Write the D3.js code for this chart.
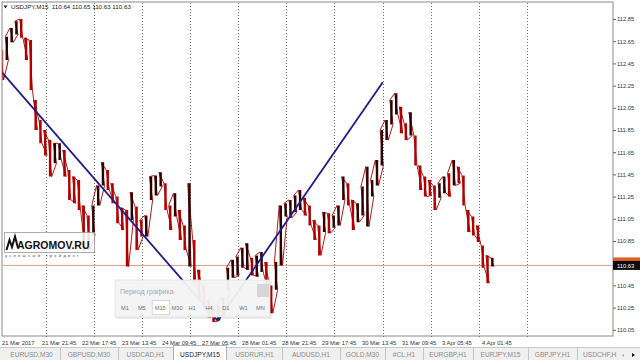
<!DOCTYPE html>
<html>
<head>
<meta charset="utf-8">
<script src="https://cdn.jsdelivr.net/npm/d3@7"></script>
<style>
html, body { margin: 0; padding: 0; background: #fff; }
svg { display: block; font-family: "Liberation Sans", Arial, sans-serif; }
</style>
</head>
<body>
<svg id="chart" width="640" height="360"></svg>
<script>
/*
USDJPY M15 chart, terminal style.
Each entry of highs/lows is one 2-hour block.
*/
var symbolTitle = "USDJPY,M15";
var ohlcText = "110.64 110.65 110.63 110.63";

var highs = [112.57,112.69,112.77,112.83,112.85,112.68,112.66,112.12,111.94,111.85,
	111.76,111.73,111.73,111.67,111.49,111.43,111.40,111.17,111.08,111.17,
	111.35,111.56,111.49,111.37,111.25,111.15,111.13,111.29,111.16,111.04,
	111.08,111.43,111.44,111.47,111.37,111.17,111.28,111.13,110.99,111.37,
	110.86,110.59,110.45,110.32,110.25,110.27,110.34,110.61,110.68,110.71,
	110.79,110.83,110.70,110.72,110.75,110.66,110.45,110.66,111.17,111.19,
	111.22,111.26,111.31,111.24,111.17,111.04,110.99,111.11,111.10,111.08,
	111.17,111.43,111.37,111.22,111.19,111.34,111.52,111.40,111.58,111.85,
	111.94,112.12,112.18,112.06,111.91,112.01,111.80,111.53,111.43,111.40,
	111.35,111.37,111.43,111.46,111.58,111.52,111.44,111.13,111.07,110.99,
	110.81,110.72,110.70];

var lows = [112.30,112.48,112.64,112.71,112.68,112.48,112.21,111.85,111.73,111.62,
	111.43,111.55,111.58,111.43,111.22,111.19,111.13,110.77,110.77,110.90,
	111.17,111.35,111.31,111.19,111.01,110.95,110.62,111.04,110.77,110.89,
	110.89,111.22,111.26,111.34,111.13,110.95,111.07,110.86,110.77,110.62,
	110.47,110.32,110.23,110.16,110.12,110.14,110.18,110.41,110.52,110.54,
	110.61,110.59,110.54,110.53,110.57,110.41,110.20,110.41,110.63,111.07,
	111.06,111.11,111.13,111.08,110.99,110.86,110.72,110.93,110.92,110.97,
	110.99,111.22,111.17,110.95,111.02,111.08,110.98,111.25,111.35,111.53,
	111.76,111.90,111.99,111.82,111.76,111.80,111.53,111.31,111.25,111.26,
	111.13,111.24,111.28,111.25,111.35,111.37,111.17,110.93,110.90,110.84,
	110.61,110.47,110.62];

//two trend lines drawn by hand on the chart (block index, price)
var trendDown = [{t: 0, p: 112.37}, {t: 44.9, p: 110.13}];
var trendUp = [{t: 44.9, p: 110.13}, {t: 79.2, p: 112.28}];

var bidPrice = 110.63;

var priceTicks = [110.05,110.25,110.45,110.65,110.85,111.05,111.25,111.45,
	111.65,111.85,112.05,112.25,112.45,112.65,112.85];

var timeLabels = ["21 Mar 2017","21 Mar 21:45","22 Mar 17:45","23 Mar 13:45",
	"24 Mar 09:45","27 Mar 05:45","28 Mar 01:45","28 Mar 21:45","29 Mar 17:45",
	"30 Mar 13:45","31 Mar 09:45","3 Apr 05:45","4 Apr 01:45"];

//vertical grid every 20 hours = 10 blocks
var gridBlocks = [9.15,19.15,29.15,39.15,49.15,59.15,69.15,79.15,89.15,99.15,109.15];

var tabNames = ["EURUSD,M30","GBPUSD,M30","USDCAD,H1","USDJPY,M15","USDRUR,H1",
	"AUDUSD,H1","GOLD,M30","#CL,H1","EURGBP,H1","EURJPY,M15","GBPJPY,H1","USDCHF,H1"];
var activeTab = "USDJPY,M15";

var periods = ["M1","M5","M15","M30","H1","H4","D1","W1","MN"];
var currentPeriod = "M15";

var svg = d3.select("#chart");

var x = d3.scaleLinear().domain([0, 127.3]).range([2, 614]);
var y = d3.scaleLinear().domain([110.0, 112.85]).range([335.35, 19]);

//chart frame
svg.append("rect")
.attr("x", 2).attr("y", 2)
.attr("width", 611).attr("height", 334)
.attr("fill", "#fff")
.attr("stroke", "#8a8a8a")
.attr("stroke-width", 1);

svg.append("clipPath").attr("id", "plotclip")
.append("rect").attr("x", 2.5).attr("y", 2.5).attr("width", 610).attr("height", 333);

//dotted grid
svg.append("g")
.selectAll("line")
.data(gridBlocks)
.join("line")
.attr("x1", function(d){return Math.round(x(d)) + 0.5;})
.attr("x2", function(d){return Math.round(x(d)) + 0.5;})
.attr("y1", 3)
.attr("y2", 339)
.attr("stroke", "#6e6e6e")
.attr("stroke-width", 1)
.attr("stroke-dasharray", "1,2");

var plot = svg.append("g").attr("clip-path", "url(#plotclip)");

//current price line
plot.append("line")
.attr("x1", 2).attr("x2", 613)
.attr("y1", y(bidPrice)).attr("y2", y(bidPrice))
.attr("stroke", "#d6a084")
.attr("stroke-width", 1);

//price bars: zigzag through high/low of each block + vertical bar
var pts = [];
highs.forEach(function(h, i){
	var a = [x(i) - 1.6, y(h)];
	var b = [x(i) + 1.6, y(lows[i])];
	if(i % 2){ pts.push(b, a); } else { pts.push(a, b); }
});

plot.append("path")
.attr("d", d3.line()(pts))
.attr("fill", "none")
.attr("stroke", "#a80000")
.attr("stroke-width", 0.9);

plot.selectAll("line.bar")
.data(highs)
.join("line")
.attr("class", "bar")
.attr("x1", function(d, i){return x(i);})
.attr("x2", function(d, i){return x(i);})
.attr("y1", function(d){return y(d);})
.attr("y2", function(d, i){return y(lows[i]);})
.attr("stroke", function(d, i){
	//black when block moved up, red when it moved down
	if(i > 0 && d + lows[i] > highs[i-1] + lows[i-1]) return "#2a0000";
	return "#b00000";
})
.attr("stroke-width", 2.4);

//trend lines
var tline = d3.line()
.x(function(d){return x(d.t);})
.y(function(d){return y(d.p);});

[trendDown, trendUp].forEach(function(tr){
	plot.append("path")
	.attr("d", tline(tr))
	.attr("fill", "none")
	.attr("stroke", "#1d1d8c")
	.attr("stroke-width", 1.8);
});

//right price axis (the tick hidden under the price label is not shown)
var yAxis = d3.axisRight(y)
.tickValues(priceTicks.filter(function(p){return Math.abs(y(p) - y(bidPrice)) > 6;}))
.tickSize(3)
.tickPadding(1)
.tickFormat(d3.format(".2f"));

var yg = svg.append("g")
.attr("transform", "translate(613,0)")
.call(yAxis);
yg.select(".domain").remove();
yg.selectAll("line").attr("stroke", "#666");
yg.selectAll("text")
.attr("font-size", 5.8)
.attr("font-family", "Liberation Sans, Arial, sans-serif")
.attr("fill", "#333");

//ask / bid labels
svg.append("rect")
.attr("x", 613).attr("y", y(bidPrice) - 8)
.attr("width", 27).attr("height", 6)
.attr("fill", "#e4602a");
svg.append("rect")
.attr("x", 613).attr("y", y(bidPrice) - 4.5)
.attr("width", 27).attr("height", 9)
.attr("fill", "#0c0c0c");
svg.append("text")
.attr("x", 617).attr("y", y(bidPrice) + 2.2)
.attr("font-size", 5.8)
.attr("fill", "#fff")
.text(d3.format(".2f")(bidPrice));

//bottom time labels
var tx = d3.scalePoint().domain(timeLabels).range([2, 482]);
svg.append("g")
.selectAll("text")
.data(timeLabels)
.join("text")
.attr("x", function(d){return tx(d);})
.attr("y", 345.3)
.attr("font-size", 5.8)
.attr("fill", "#333")
.text(function(d){return d;});

//title
svg.append("path")
.attr("d", "M3.5,5.5 L7.5,5.5 L5.5,8.5 Z")
.attr("fill", "#222");
svg.append("text")
.attr("x", 11).attr("y", 9.2)
.attr("font-size", 6.2)
.attr("fill", "#222")
.attr("xml:space", "preserve")
.text(symbolTitle + "  " + ohlcText);

//logo
var logo = svg.append("g");
logo.append("rect")
.attr("x", 4.5).attr("y", 232.5)
.attr("width", 90).attr("height", 20)
.attr("fill", "#fff").attr("fill-opacity", 0.85)
.attr("stroke", "#9a9a9a").attr("stroke-width", 0.8);
logo.append("path")
.attr("d", "M6.5,250 L9.5,240 L12,247 L15,236.5 L18,248")
.attr("fill", "none")
.attr("stroke", "#111")
.attr("stroke-width", 2)
.attr("stroke-linejoin", "miter");
logo.append("text")
.attr("x", 17).attr("y", 248.5)
.attr("font-size", 10.5)
.attr("font-weight", "bold")
.attr("fill", "#111")
.text("AGROMOV.RU");
logo.append("text")
.attr("x", 5).attr("y", 256.5)
.attr("font-size", 4)
.attr("letter-spacing", 2.3)
.attr("fill", "#444")
.text("успешный трейдинг");

//period popup
var pop = svg.append("g");
pop.append("rect")
.attr("x", 116).attr("y", 281)
.attr("width", 156).attr("height", 38)
.attr("fill", "#000").attr("fill-opacity", 0.08);
pop.append("rect")
.attr("x", 115).attr("y", 280)
.attr("width", 155).attr("height", 37)
.attr("fill", "#f4f4f4").attr("fill-opacity", 0.95)
.attr("stroke", "#e2e2e2").attr("stroke-width", 0.8);
pop.append("text")
.attr("x", 120).attr("y", 293.5)
.attr("font-size", 7)
.attr("fill", "#a8a8a8")
.text("Период графика");
pop.append("rect")
.attr("x", 257).attr("y", 284)
.attr("width", 12).attr("height", 13)
.attr("fill", "#d6d6d6");

var px = d3.scalePoint().domain(periods).range([121, 256]);
pop.append("rect")
.attr("x", px(currentPeriod) - 2.5).attr("y", 300.5)
.attr("width", 17.5).attr("height", 14)
.attr("fill", "#fff")
.attr("stroke", "#cfcfcf").attr("stroke-width", 0.8);
pop.selectAll("text.per")
.data(periods)
.join("text")
.attr("class", "per")
.attr("x", function(d){return px(d);})
.attr("y", 310)
.attr("font-size", 5.6)
.attr("fill", "#707070")
.text(function(d){return d;});

//tab bar
svg.append("rect")
.attr("x", 0).attr("y", 347)
.attr("width", 640).attr("height", 13)
.attr("fill", "#f0f0f0");
svg.append("line")
.attr("x1", 0).attr("x2", 640)
.attr("y1", 347.5).attr("y2", 347.5)
.attr("stroke", "#c8c8c8");

var tabEdges = [3, 60, 118, 173, 227, 282, 340, 385, 423, 473, 528, 577, 640];
var tabs = svg.append("g");
tabNames.forEach(function(name, i){
	var x0 = tabEdges[i], x1 = tabEdges[i+1];
	var active = name === activeTab;
	if(active){
		tabs.append("rect")
		.attr("x", x0 + 0.5).attr("y", 345.5)
		.attr("width", x1 - x0 - 1).attr("height", 15)
		.attr("fill", "#fff")
		.attr("stroke", "#a0a0a0").attr("stroke-width", 0.8);
	}else{
		tabs.append("line")
		.attr("x1", x1 + 0.5).attr("x2", x1 + 0.5)
		.attr("y1", 348).attr("y2", 360)
		.attr("stroke", "#c4c4c4");
	}
	var last = i === tabNames.length - 1;
	tabs.append("text")
	.attr("x", last ? x0 + 6 : (x0 + x1) / 2)
	.attr("y", 357)
	.attr("text-anchor", last ? "start" : "middle")
	.attr("font-size", 6.6)
	.attr("fill", active ? "#1a1a1a" : "#8a8a8a")
	.text(name);
});
//cover overflow of the last tab and draw scroll arrows
svg.append("rect")
.attr("x", 617).attr("y", 348)
.attr("width", 23).attr("height", 12)
.attr("fill", "#f0f0f0");
svg.append("path").attr("d", "M624,354 L621.5,355.5 L624,357 Z").attr("fill", "#b0b0b0");
svg.append("path").attr("d", "M632,353 L635,355 L632,357 Z").attr("fill", "#111");
</script>
</body>
</html>
